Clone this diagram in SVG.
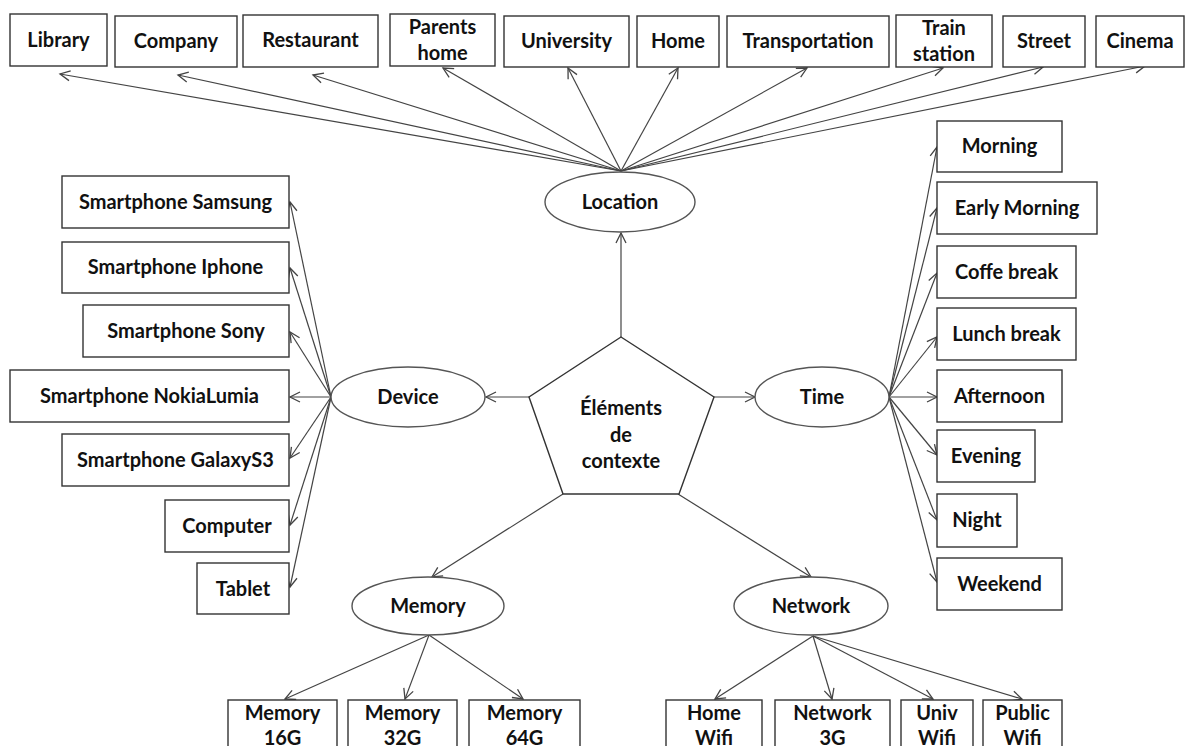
<svg xmlns="http://www.w3.org/2000/svg" width="1188" height="746" viewBox="0 0 1188 746">
<style>
.box{fill:#fff;stroke:#333;stroke-width:1.4}
.ell{fill:#fff;stroke:#555;stroke-width:1.4}
.t{font-family:Lato,"Liberation Sans",sans-serif;font-weight:bold;font-size:20px;fill:#111;text-anchor:middle}
.c line{stroke:#444;stroke-width:1.2;marker-end:url(#a)}
</style>
<defs>
<marker id="a" viewBox="-12 -7 14 14" refX="0" refY="0" markerWidth="14" markerHeight="14" markerUnits="userSpaceOnUse" orient="auto">
<path d="M-10,-5 L0,0 L-10,5" fill="none" stroke="#444" stroke-width="1.3"/>
</marker>
</defs>
<rect width="1188" height="746" fill="#fff"/>
<g class="c" id="connectors">
<line x1="621" y1="171" x2="60" y2="74"/>
<line x1="621" y1="171" x2="178" y2="75"/>
<line x1="621" y1="171" x2="313" y2="75"/>
<line x1="621" y1="171" x2="443" y2="68"/>
<line x1="621" y1="171" x2="568" y2="68"/>
<line x1="621" y1="171" x2="678" y2="68"/>
<line x1="621" y1="171" x2="807" y2="68"/>
<line x1="621" y1="171" x2="943" y2="68"/>
<line x1="621" y1="171" x2="1043" y2="67"/>
<line x1="621" y1="171" x2="1145" y2="66"/>
<line x1="621" y1="337" x2="621" y2="233"/>
<line x1="529" y1="397" x2="486" y2="397"/>
<line x1="714" y1="397" x2="755" y2="397"/>
<line x1="563" y1="494" x2="432" y2="577"/>
<line x1="678" y1="494" x2="811" y2="577"/>
<line x1="331" y1="397" x2="290" y2="202"/>
<line x1="331" y1="397" x2="290" y2="268"/>
<line x1="331" y1="397" x2="290" y2="332"/>
<line x1="331" y1="397" x2="290" y2="397"/>
<line x1="331" y1="397" x2="290" y2="458"/>
<line x1="331" y1="397" x2="290" y2="525"/>
<line x1="331" y1="397" x2="290" y2="587"/>
<line x1="889" y1="397" x2="937" y2="147"/>
<line x1="889" y1="397" x2="937" y2="208"/>
<line x1="889" y1="397" x2="937" y2="273"/>
<line x1="889" y1="397" x2="937" y2="337"/>
<line x1="889" y1="397" x2="937" y2="397"/>
<line x1="889" y1="397" x2="937" y2="455"/>
<line x1="889" y1="397" x2="937" y2="520"/>
<line x1="889" y1="397" x2="937" y2="582"/>
<line x1="429" y1="635" x2="285" y2="699"/>
<line x1="429" y1="635" x2="405" y2="699"/>
<line x1="429" y1="635" x2="523" y2="699"/>
<line x1="813" y1="636" x2="715" y2="699"/>
<line x1="813" y1="636" x2="832" y2="699"/>
<line x1="813" y1="636" x2="933" y2="699"/>
<line x1="813" y1="636" x2="1022" y2="699"/>
</g>
<g id="center"><polygon class="box" points="621,337 714,397 679,494 563,494 529,397"/><text class="t" x="621" y="415">Éléments</text><text class="t" x="621" y="442">de</text><text class="t" x="621" y="468">contexte</text></g>
<g id="location"><ellipse class="ell" cx="620" cy="202" rx="75" ry="30"/><text class="t" x="620" y="209">Location</text></g>
<g id="device"><ellipse class="ell" cx="408" cy="397" rx="77" ry="30"/><text class="t" x="408" y="404">Device</text></g>
<g id="time"><ellipse class="ell" cx="822" cy="397" rx="67" ry="30"/><text class="t" x="822" y="404">Time</text></g>
<g id="memory"><ellipse class="ell" cx="428" cy="606" rx="76" ry="29"/><text class="t" x="428" y="613">Memory</text></g>
<g id="network"><ellipse class="ell" cx="811" cy="606" rx="77" ry="29"/><text class="t" x="811" y="613">Network</text></g>

<g id="library"><rect class="box" x="10" y="14" width="97" height="52"/><text class="t" x="58.5" y="47">Library</text></g>
<g id="company"><rect class="box" x="115" y="16" width="122" height="51"/><text class="t" x="176" y="48">Company</text></g>
<g id="restaurant"><rect class="box" x="243" y="15" width="135" height="52"/><text class="t" x="310.5" y="47">Restaurant</text></g>
<g id="parents-home"><rect class="box" x="390" y="14" width="105" height="52"/><text class="t" x="442.5" y="34">Parents</text><text class="t" x="442.5" y="60">home</text></g>
<g id="university"><rect class="box" x="504" y="16" width="125" height="51"/><text class="t" x="566.5" y="48">University</text></g>
<g id="home"><rect class="box" x="637" y="16" width="82" height="51"/><text class="t" x="678" y="48">Home</text></g>
<g id="transportation"><rect class="box" x="727" y="16" width="162" height="51"/><text class="t" x="808" y="48">Transportation</text></g>
<g id="train-station"><rect class="box" x="896" y="15" width="96" height="52"/><text class="t" x="944" y="35">Train</text><text class="t" x="944" y="61">station</text></g>
<g id="street"><rect class="box" x="1003" y="16" width="82" height="51"/><text class="t" x="1044" y="48">Street</text></g>
<g id="cinema"><rect class="box" x="1096" y="16" width="88" height="51"/><text class="t" x="1140" y="48">Cinema</text></g>

<g id="samsung"><rect class="box" x="62" y="176" width="227" height="52"/><text class="t" x="175.5" y="209">Smartphone Samsung</text></g>
<g id="iphone"><rect class="box" x="62" y="242" width="227" height="51"/><text class="t" x="175.5" y="274">Smartphone Iphone</text></g>
<g id="sony"><rect class="box" x="83" y="305" width="206" height="52"/><text class="t" x="186" y="338">Smartphone Sony</text></g>
<g id="nokia"><rect class="box" x="10" y="370" width="279" height="52"/><text class="t" x="149.5" y="403">Smartphone NokiaLumia</text></g>
<g id="galaxy"><rect class="box" x="62" y="434" width="227" height="52"/><text class="t" x="175.5" y="467">Smartphone GalaxyS3</text></g>
<g id="computer"><rect class="box" x="165" y="500" width="124" height="52"/><text class="t" x="227" y="533">Computer</text></g>
<g id="tablet"><rect class="box" x="197" y="563" width="92" height="51"/><text class="t" x="243" y="596">Tablet</text></g>

<g id="morning"><rect class="box" x="937" y="121" width="125" height="51"/><text class="t" x="999.5" y="153">Morning</text></g>
<g id="early-morning"><rect class="box" x="937" y="182" width="160" height="52"/><text class="t" x="1017" y="215">Early Morning</text></g>
<g id="coffe-break"><rect class="box" x="937" y="246" width="139" height="52"/><text class="t" x="1006.5" y="279">Coffe break</text></g>
<g id="lunch-break"><rect class="box" x="937" y="308" width="139" height="52"/><text class="t" x="1006.5" y="341">Lunch break</text></g>
<g id="afternoon"><rect class="box" x="937" y="370" width="125" height="52"/><text class="t" x="999.5" y="403">Afternoon</text></g>
<g id="evening"><rect class="box" x="937" y="430" width="98" height="52"/><text class="t" x="986" y="463">Evening</text></g>
<g id="night"><rect class="box" x="937" y="494" width="80" height="53"/><text class="t" x="977" y="527">Night</text></g>
<g id="weekend"><rect class="box" x="937" y="558" width="125" height="52"/><text class="t" x="999.5" y="591">Weekend</text></g>

<g id="mem16"><rect class="box" x="228" y="700" width="109" height="60"/><text class="t" x="282.5" y="720">Memory</text><text class="t" x="282.5" y="745">16G</text></g>
<g id="mem32"><rect class="box" x="348" y="700" width="109" height="60"/><text class="t" x="402.5" y="720">Memory</text><text class="t" x="402.5" y="745">32G</text></g>
<g id="mem64"><rect class="box" x="469" y="700" width="111" height="60"/><text class="t" x="524.5" y="720">Memory</text><text class="t" x="524.5" y="745">64G</text></g>
<g id="home-wifi"><rect class="box" x="666" y="700" width="96" height="60"/><text class="t" x="714" y="720">Home</text><text class="t" x="714" y="745">Wifi</text></g>
<g id="network-3g"><rect class="box" x="775" y="700" width="115" height="60"/><text class="t" x="832.5" y="720">Network</text><text class="t" x="832.5" y="745">3G</text></g>
<g id="univ-wifi"><rect class="box" x="901" y="700" width="72" height="60"/><text class="t" x="937" y="720">Univ</text><text class="t" x="937" y="745">Wifi</text></g>
<g id="public-wifi"><rect class="box" x="983" y="700" width="79" height="60"/><text class="t" x="1022.5" y="720">Public</text><text class="t" x="1022.5" y="745">Wifi</text></g>
</svg>
